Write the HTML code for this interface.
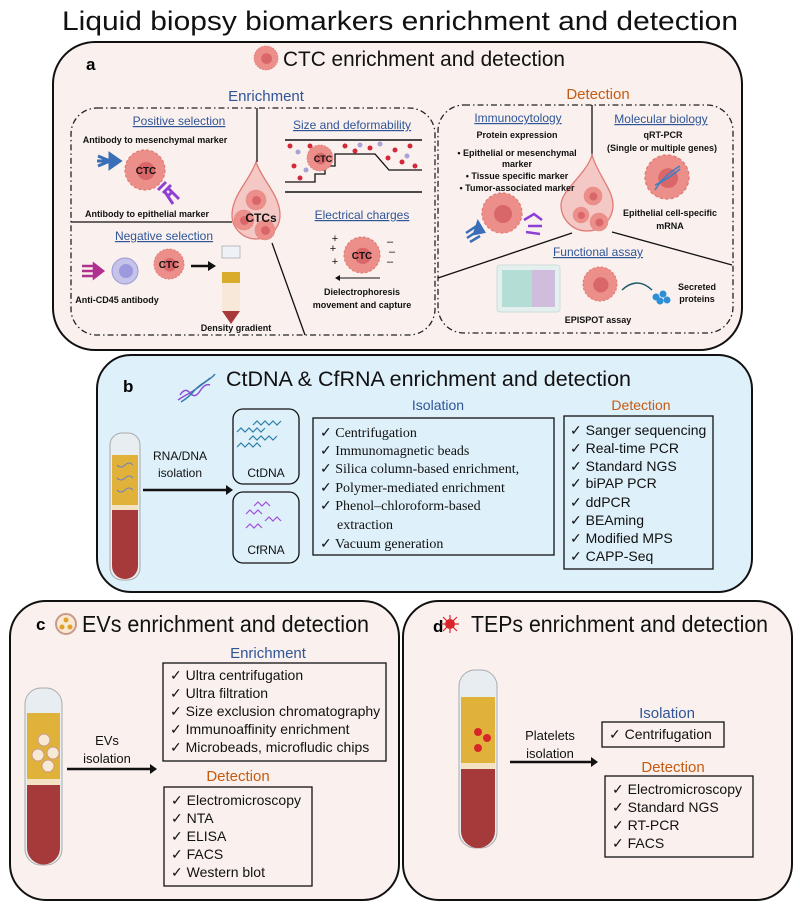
<!DOCTYPE html>
<html><head><meta charset="utf-8"><style>
html,body{margin:0;padding:0;background:#fff;}
svg{display:block;font-family:"Liberation Sans",sans-serif;}
.blue{fill:#2f5597}.org{fill:#c55a11}
.bl{font-weight:bold;font-size:9px;fill:#111}
.it{font-size:14px;fill:#111}
.ser{font-family:"Liberation Serif",serif;font-size:14px;fill:#111}
</style></head><body>
<svg width="800" height="910" viewBox="0 0 800 910">
<defs>
<g id="cell"><circle r="1" fill="#ec8f8a" stroke="#e07a75" stroke-width="0.06" stroke-dasharray="0.15 0.1"/><circle r="0.45" cx="0.05" cy="0.05" fill="#d9676a"/></g>
</defs>
<text x="400" y="30" text-anchor="middle" font-size="27" fill="#111" textLength="676" lengthAdjust="spacingAndGlyphs">Liquid biopsy biomarkers enrichment and detection</text>

<!-- Panel a -->
<g>
<rect x="53" y="42" width="689" height="308" rx="42" fill="#faf1ee" stroke="#111" stroke-width="2"/>
<text x="86" y="70" font-size="17" font-weight="bold">a</text>
<use href="#cell" transform="translate(266,58) scale(12)"/>
<text x="283" y="66" font-size="21" fill="#111" textLength="282" lengthAdjust="spacingAndGlyphs">CTC enrichment and detection</text>
<text x="266" y="101" text-anchor="middle" font-size="15" class="blue">Enrichment</text>
<text x="598" y="99" text-anchor="middle" font-size="15" class="org">Detection</text>
<rect x="71" y="108" width="364" height="227" rx="26" fill="none" stroke="#222" stroke-width="1.3" stroke-dasharray="6 3 1.5 3"/>
<rect x="438" y="105" width="295" height="228" rx="26" fill="none" stroke="#222" stroke-width="1.3" stroke-dasharray="6 3 1.5 3"/>
<line x1="257" y1="108" x2="257" y2="162" stroke="#111" stroke-width="1.3"/>
<line x1="71" y1="222" x2="232" y2="222" stroke="#111" stroke-width="1.3"/>
<line x1="272" y1="243" x2="305" y2="335" stroke="#111" stroke-width="1.3"/>
<path d="M256,162 C262,180 280,195 280,215 A24,24 0 1 1 232,215 C232,195 250,180 256,162Z" fill="#f4c8c4" stroke="#e07a75" stroke-width="1.3"/>
<use href="#cell" transform="translate(256,200) scale(10)"/>
<use href="#cell" transform="translate(244,220) scale(10)"/>
<use href="#cell" transform="translate(265,230) scale(10)"/>
<text x="261" y="222" text-anchor="middle" font-size="12" font-weight="bold" fill="#111">CTCs</text>
<text x="179" y="125" text-anchor="middle" font-size="12" class="blue" text-decoration="underline">Positive selection</text>
<text x="155" y="143" text-anchor="middle" class="bl">Antibody to mesenchymal marker</text>
<path d="M98,156 l12,5 M97,161 l13,0 M98,166 l12,-5 M110,154 l10,7 -10,7z" stroke="#3a6fb8" stroke-width="3" fill="#3a6fb8"/>
<use href="#cell" transform="translate(145,170) scale(20)"/>
<text x="146" y="174" text-anchor="middle" font-size="10" font-weight="bold" fill="#111">CTC</text>
<path d="M158,190 l8,-8 M163,193 l8,-8 M168,196 l5,-5 M165,192 l8,12 M169,189 l10,10" stroke="#8e3fd6" stroke-width="3"/>
<text x="147" y="217" text-anchor="middle" class="bl">Antibody to epithelial marker</text>
<text x="164" y="240" text-anchor="middle" font-size="12" class="blue" text-decoration="underline">Negative selection</text>
<path d="M82,266 l12,0 M82,271 l12,0 M82,276 l12,0 M94,264 l9,7 -9,7z" stroke="#b0308f" stroke-width="2.5" fill="#b0308f"/>
<circle cx="125" cy="271" r="13" fill="#c6c3ea" stroke="#9a97d6"/><circle cx="126" cy="271" r="7" fill="#9e99dc"/>
<text x="117" y="303" text-anchor="middle" class="bl">Anti-CD45 antibody</text>
<use href="#cell" transform="translate(169,264) scale(15)"/>
<text x="169" y="268" text-anchor="middle" font-size="10" font-weight="bold" fill="#111">CTC</text>
<path d="M191,266 h18" stroke="#111" stroke-width="2.5"/><path d="M208,261 l8,5 -8,5z" fill="#111"/>
<rect x="222" y="246" width="18" height="12" fill="#eef2f6" stroke="#bbb"/>
<rect x="222" y="272" width="18" height="11" fill="#d9ac2c"/>
<rect x="222" y="283" width="18" height="28" fill="#f7e8d9"/>
<path d="M222,311 h18 l-9,13z" fill="#a63a3a"/>
<text x="236" y="331" text-anchor="middle" class="bl">Density gradient</text>
<text x="352" y="129" text-anchor="middle" font-size="12" class="blue" text-decoration="underline">Size and deformability</text>
<line x1="285" y1="140" x2="422" y2="140" stroke="#111" stroke-width="1.5"/>
<line x1="285" y1="192" x2="422" y2="192" stroke="#111" stroke-width="1.5"/>
<path d="M285,182 h30 v-8 h10 v-8 h10 v-12 h40 l14,16 h33" fill="none" stroke="#111" stroke-width="1.3"/>
<g fill="#d3283a"><circle cx="290" cy="146" r="2.5"/><circle cx="300" cy="178" r="2.5"/><circle cx="310" cy="146" r="2.5"/><circle cx="345" cy="146" r="2.5"/><circle cx="370" cy="148" r="2.5"/><circle cx="395" cy="150" r="2.5"/><circle cx="410" cy="146" r="2.5"/><circle cx="402" cy="162" r="2.5"/><circle cx="388" cy="158" r="2.5"/><circle cx="415" cy="166" r="2.5"/><circle cx="294" cy="166" r="2.5"/><circle cx="355" cy="151" r="2.5"/></g>
<g fill="#a9a2d8"><circle cx="298" cy="152" r="2.5"/><circle cx="360" cy="145" r="2.5"/><circle cx="380" cy="144" r="2.5"/><circle cx="407" cy="156" r="2.5"/><circle cx="306" cy="170" r="2.5"/></g>
<use href="#cell" transform="translate(320,158) scale(13)"/>
<text x="323" y="162" text-anchor="middle" font-size="9" font-weight="bold" fill="#111">CTC</text>
<text x="362" y="219" text-anchor="middle" font-size="12" class="blue" text-decoration="underline">Electrical charges</text>
<use href="#cell" transform="translate(362,255) scale(18)"/>
<text x="362" y="259" text-anchor="middle" font-size="10" font-weight="bold" fill="#111">CTC</text>
<text x="335" y="265" text-anchor="middle" font-size="11" fill="#111">+</text><text x="333" y="252" text-anchor="middle" font-size="11" fill="#111">+</text><text x="335" y="242" text-anchor="middle" font-size="11" fill="#111">+</text>
<text x="387" y="245" font-size="11" fill="#111">–</text><text x="389" y="255" font-size="11" fill="#111">–</text><text x="387" y="265" font-size="11" fill="#111">–</text>
<path d="M380,278 h-40" stroke="#111"/><path d="M340,275 l-5,3 5,3z" fill="#111"/>
<text x="362" y="295" text-anchor="middle" class="bl">Dielectrophoresis</text>
<text x="362" y="308" text-anchor="middle" class="bl">movement and capture</text>
<line x1="592" y1="105" x2="592" y2="157" stroke="#111" stroke-width="1.3"/>
<line x1="572" y1="233" x2="438" y2="278" stroke="#111" stroke-width="1.3"/>
<line x1="612" y1="232" x2="732" y2="265" stroke="#111" stroke-width="1.3"/>
<path d="M592,155 C598,175 613,190 613,205 A26,26 0 1 1 561,205 C561,190 586,175 592,155Z" fill="#f4c8c4" stroke="#e07a75" stroke-width="1.3"/>
<use href="#cell" transform="translate(593,196) scale(9)"/><use href="#cell" transform="translate(581,215) scale(8)"/><use href="#cell" transform="translate(599,222) scale(9)"/>
<text x="518" y="122" text-anchor="middle" font-size="12" class="blue" text-decoration="underline">Immunocytology</text>
<text x="517" y="138" text-anchor="middle" class="bl">Protein expression</text>
<text x="517" y="156" text-anchor="middle" class="bl">•  Epithelial or mesenchymal</text>
<text x="517" y="167" text-anchor="middle" class="bl">marker</text>
<text x="517" y="179" text-anchor="middle" class="bl">•  Tissue specific marker</text>
<text x="517" y="191" text-anchor="middle" class="bl">•  Tumor-associated marker</text>
<use href="#cell" transform="translate(502,213) scale(20)"/>
<path d="M466,233 l12,-8 M467,238 l12,-8 M470,242 l10,-6 M478,222 l6,10 -10,2z" stroke="#3a6fb8" stroke-width="2.5" fill="#3a6fb8"/>
<path d="M524,220 l10,-6 l8,6 M528,226 l14,0 M526,232 l14,2" stroke="#8e3fd6" stroke-width="2.5" fill="none"/>
<text x="661" y="123" text-anchor="middle" font-size="12" class="blue" text-decoration="underline">Molecular biology</text>
<text x="663" y="138" text-anchor="middle" class="bl">qRT-PCR</text>
<text x="662" y="151" text-anchor="middle" class="bl">(Single or multiple genes)</text>
<use href="#cell" transform="translate(667,177) scale(22)"/>
<path d="M655,190 q8,-14 25,-24 M655,185 q12,-5 25,-16" stroke="#3a7fc8" stroke-width="1.5" fill="none"/>
<text x="670" y="216" text-anchor="middle" class="bl">Epithelial cell-specific</text>
<text x="670" y="229" text-anchor="middle" class="bl">mRNA</text>
<text x="598" y="256" text-anchor="middle" font-size="12" class="blue" text-decoration="underline">Functional assay</text>
<rect x="497" y="265" width="63" height="47" rx="3" fill="#e3f0ee" stroke="#cfdcdc"/>
<g fill="#9fd4cc"><rect x="502" y="270" width="30" height="37" opacity="0.7"/></g><g fill="#c7a5d6"><rect x="532" y="270" width="23" height="37" opacity="0.7"/></g>
<use href="#cell" transform="translate(600,284) scale(17)"/>
<path d="M622,290 q15,-14 30,0" stroke="#1d5a6b" stroke-width="1.5" fill="none"/>
<g fill="#2d8fd6"><circle cx="656" cy="297" r="3.5"/><circle cx="663" cy="294" r="3.5"/><circle cx="660" cy="301" r="3.5"/><circle cx="667" cy="300" r="3.5"/></g>
<text x="697" y="290" text-anchor="middle" class="bl">Secreted</text>
<text x="697" y="302" text-anchor="middle" class="bl">proteins</text>
<text x="598" y="323" text-anchor="middle" class="bl">EPISPOT assay</text>
</g>

<!-- Panel b -->
<g>
<rect x="97" y="355" width="655" height="237" rx="34" fill="#def0fa" stroke="#111" stroke-width="2"/>
<text x="123" y="392" font-size="17" font-weight="bold">b</text>
<path d="M180,395 q5,-8 10,-2 t10,-2 t10,-6 M178,400 q6,-4 10,-6 t12,-8 t10,-8" stroke="#8a4fd6" stroke-width="1.5" fill="none"/>
<path d="M181,402 q8,-5 12,-10 t12,-10 t10,-8" stroke="#2f7fa8" stroke-width="1.5" fill="none"/>
<text x="226" y="386" font-size="21" fill="#111" textLength="405" lengthAdjust="spacingAndGlyphs">CtDNA &amp; CfRNA enrichment and detection</text>
<text x="438" y="410" text-anchor="middle" font-size="14" class="blue">Isolation</text>
<text x="641" y="410" text-anchor="middle" font-size="14" class="org">Detection</text>
<rect x="110" y="433" width="30" height="147" rx="12" fill="#e8edf1" stroke="#aaa"/>
<rect x="112" y="455" width="26" height="50" fill="#e1b23a"/>
<rect x="112" y="505" width="26" height="5" fill="#f3e3c3"/>
<path d="M112,510 h26 v56 a13,13 0 0 1 -26,0z" fill="#a63a3a"/>
<path d="M117,465 q4,4 8,0 t8,0 M117,478 q4,4 8,0 t8,0 M117,490 q4,4 8,0 t8,0" stroke="#6a7fc8" fill="none"/>
<text x="180" y="460" text-anchor="middle" font-size="12" fill="#111">RNA/DNA</text>
<text x="180" y="477" text-anchor="middle" font-size="12" fill="#111">isolation</text>
<path d="M143,490 h84" stroke="#111" stroke-width="2.5"/><path d="M226,485 l7,5 -7,5z" fill="#111"/>
<rect x="233" y="409" width="66" height="75" rx="10" fill="#def0fa" stroke="#111" stroke-width="1.3"/>
<g stroke="#2f7fa8" fill="none" stroke-width="1.2"><path d="M253,425 l4,-4 4,4 4,-4 4,4 4,-4 4,4 4,-4"/><path d="M237,432 l4,-4 4,4 4,-4 4,4 4,-4 4,4 4,-4"/><path d="M249,440 l4,-4 4,4 4,-4 4,4 4,-4 4,4 4,-4"/><path d="M237,447 l4,-4 4,4 4,-4 4,4 4,-4 4,4"/></g>
<text x="266" y="477" text-anchor="middle" font-size="12" fill="#111">CtDNA</text>
<rect x="233" y="492" width="66" height="71" rx="10" fill="#def0fa" stroke="#111" stroke-width="1.3"/>
<g stroke="#a050d8" fill="none" stroke-width="1.2"><path d="M254,506 l4,-4 4,4 4,-4 4,4"/><path d="M246,514 l4,-4 4,4 4,-4 4,4"/><path d="M265,521 l4,-4 4,4 4,-4 4,4"/><path d="M246,528 l4,-4 4,4 4,-4 4,4"/></g>
<text x="266" y="554" text-anchor="middle" font-size="12" fill="#111">CfRNA</text>
<rect x="313" y="418" width="241" height="137" fill="#def0fa" stroke="#111" stroke-width="1.3"/>
<g class="ser">
<text x="320" y="437">✓   Centrifugation</text>
<text x="320" y="455">✓   Immunomagnetic  beads</text>
<text x="320" y="473">✓   Silica column-based enrichment,</text>
<text x="320" y="492">✓   Polymer-mediated  enrichment</text>
<text x="320" y="510">✓   Phenol–chloroform-based</text>
<text x="337" y="529">extraction</text>
<text x="320" y="548">✓   Vacuum generation</text>
</g>
<rect x="564" y="416" width="149" height="153" fill="#def0fa" stroke="#111" stroke-width="1.3"/>
<g class="it" font-size="13">
<text x="570" y="435">✓ Sanger sequencing</text>
<text x="570" y="453">✓ Real-time PCR</text>
<text x="570" y="471">✓ Standard NGS</text>
<text x="570" y="488">✓ biPAP PCR</text>
<text x="570" y="507">✓ ddPCR</text>
<text x="570" y="525">✓ BEAming</text>
<text x="570" y="543">✓ Modified MPS</text>
<text x="570" y="561">✓ CAPP-Seq</text>
</g>
</g>

<!-- Panel c -->
<g>
<rect x="10" y="601" width="389" height="299" rx="36" fill="#faf1ee" stroke="#111" stroke-width="2"/>
<text x="36" y="630" font-size="17" font-weight="bold">c</text>
<circle cx="66" cy="624" r="10" fill="#f7e9d4" stroke="#c9998a" stroke-width="2"/>
<g fill="#e0a12a"><circle cx="66" cy="620" r="2.5"/><circle cx="62" cy="627" r="2.5"/><circle cx="70" cy="627" r="2.5"/></g>
<text x="82" y="632" font-size="23" fill="#111" textLength="287" lengthAdjust="spacingAndGlyphs">EVs enrichment and detection</text>
<text x="268" y="658" text-anchor="middle" font-size="15" class="blue">Enrichment</text>
<rect x="163" y="663" width="223" height="98" fill="#faf1ee" stroke="#111" stroke-width="1.3"/>
<g class="it" font-size="13">
<text x="170" y="680">✓  Ultra centrifugation</text>
<text x="170" y="698">✓  Ultra filtration</text>
<text x="170" y="716">✓  Size exclusion chromatography</text>
<text x="170" y="734">✓  Immunoaffinity enrichment</text>
<text x="170" y="752">✓  Microbeads, microfludic chips</text>
</g>
<text x="238" y="781" text-anchor="middle" font-size="15" class="org">Detection</text>
<rect x="164" y="787" width="148" height="99" fill="#faf1ee" stroke="#111" stroke-width="1.3"/>
<g class="it" font-size="13">
<text x="171" y="805">✓  Electromicroscopy</text>
<text x="171" y="823">✓  NTA</text>
<text x="171" y="841">✓  ELISA</text>
<text x="171" y="859">✓  FACS</text>
<text x="171" y="877">✓  Western blot</text>
</g>
<rect x="25" y="688" width="37" height="177" rx="16" fill="#e8edf1" stroke="#aaa"/>
<rect x="27" y="713" width="33" height="66" fill="#e1b23a"/>
<rect x="27" y="779" width="33" height="6" fill="#f3e3c3"/>
<path d="M27,785 h33 v63 a16.5,16.5 0 0 1 -33,0z" fill="#a63a3a"/>
<g fill="#f7e9d4" stroke="#c9998a"><circle cx="44" cy="740" r="6"/><circle cx="38" cy="755" r="6"/><circle cx="53" cy="753" r="6"/><circle cx="48" cy="766" r="6"/></g>
<text x="107" y="745" text-anchor="middle" font-size="13" fill="#111">EVs</text>
<text x="107" y="763" text-anchor="middle" font-size="13" fill="#111">isolation</text>
<path d="M67,769 h84" stroke="#111" stroke-width="2.5"/><path d="M150,764 l7,5 -7,5z" fill="#111"/>
</g>

<!-- Panel d -->
<g>
<rect x="403" y="601" width="389" height="299" rx="36" fill="#faf1ee" stroke="#111" stroke-width="2"/>
<text x="433" y="632" font-size="17" font-weight="bold">d</text>
<g stroke="#d8262a" stroke-width="1.2"><path d="M443,617 l14,14 M457,617 l-14,14 M441,624 h18 M450,615 v18"/></g>
<circle cx="450" cy="624" r="5" fill="#d8262a"/>
<text x="471" y="632" font-size="23" fill="#111" textLength="297" lengthAdjust="spacingAndGlyphs">TEPs enrichment and detection</text>
<rect x="459" y="670" width="38" height="178" rx="16" fill="#e8edf1" stroke="#aaa"/>
<rect x="461" y="697" width="34" height="66" fill="#e1b23a"/>
<rect x="461" y="763" width="34" height="6" fill="#f3e3c3"/>
<path d="M461,769 h34 v62 a17,17 0 0 1 -34,0z" fill="#a63a3a"/>
<g fill="#d8262a"><circle cx="478" cy="732" r="4"/><circle cx="487" cy="738" r="4"/><circle cx="478" cy="748" r="4"/></g>
<text x="550" y="740" text-anchor="middle" font-size="13" fill="#111">Platelets</text>
<text x="550" y="758" text-anchor="middle" font-size="13" fill="#111">isolation</text>
<path d="M510,762 h82" stroke="#111" stroke-width="2.5"/><path d="M591,757 l7,5 -7,5z" fill="#111"/>
<text x="667" y="718" text-anchor="middle" font-size="15" class="blue">Isolation</text>
<rect x="602" y="722" width="122" height="25" fill="#faf1ee" stroke="#111" stroke-width="1.3"/>
<text x="609" y="739" class="it" font-size="13">✓  Centrifugation</text>
<text x="673" y="772" text-anchor="middle" font-size="15" class="org">Detection</text>
<rect x="605" y="776" width="148" height="81" fill="#faf1ee" stroke="#111" stroke-width="1.3"/>
<g class="it" font-size="13">
<text x="612" y="794">✓  Electromicroscopy</text>
<text x="612" y="812">✓  Standard NGS</text>
<text x="612" y="830">✓  RT-PCR</text>
<text x="612" y="848">✓  FACS</text>
</g>
</g>
</svg>
</body></html>
